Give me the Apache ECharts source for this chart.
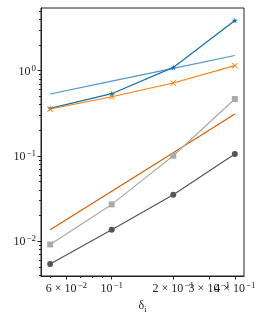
<!DOCTYPE html>
<html><head><meta charset="utf-8">
<script src="https://cdn.jsdelivr.net/npm/echarts@6/dist/echarts.min.js"></script>
<style>html,body{margin:0;padding:0;background:#fff}#c{width:266px;height:320px}</style>
</head><body><div id="c"></div>
<script>
const deltas = [0.05, 0.1, 0.2, 0.4];
const errStar = [0.361, 0.537, 1.093, 3.89];
const errCross = [0.355, 0.495, 0.717, 1.145];
const refHalf = [0.533, 0.754, 1.066, 1.508];
const errSquare = [0.00915, 0.027, 0.1005, 0.465];
const refThreeHalves = [0.0136, 0.0385, 0.109, 0.31];
const errCircle = [0.00539, 0.0136, 0.0351, 0.105];

const xMajorTicks = [0.06, 0.1, 0.2, 0.3, 0.4];
const xLabelsA = [0.06, 0.2];
const xLabelsB = [0.1, 0.3];
const xLabelsC = [0.4];
const xMinorTicks = [0.05, 0.07, 0.08, 0.09];
const yMajorTicks = [0.01, 0.1, 1];
const yMinorTicks = [0.004,0.005,0.006,0.007,0.008,0.009,0.02,0.03,0.04,0.05,0.06,0.07,0.08,0.09,0.2,0.3,0.4,0.5,0.6,0.7,0.8,0.9,2,3,4,5];
const xTickLabels = {0.06:'{m|6 × 10}{e|−2}',0.1:'{m|10}{e|−1}',0.2:'{m|2 × 10}{e|−1}',0.3:'{m|3 × 10}{e|−1}',0.4:'{m|4 × 10}{e|−1}'};
const yTickLabels = {0.01:'{m|10}{e|−2}',0.1:'{m|10}{e|−1}',1:'{m|10}{e|0}'};

const FONT = 'Liberation Serif';
const TXT = '#222';
const rich = {
  m:{fontFamily:FONT,fontSize:12,color:TXT,lineHeight:14,verticalAlign:'bottom'},
  e:{fontFamily:FONT,fontSize:9,color:TXT,lineHeight:14,verticalAlign:'top',padding:[0,0,0,1]}
};
const X0=0.0451, X1=0.4435, Y0=0.0039, Y1=5.44;
function key(v){return Math.round(v*1000)/1000;}

const axisLineStyle={color:'#222',width:1};
function labelCfg(vals){
  return {show:true,margin:5,hideOverlap:false,showMinLabel:true,showMaxLabel:true,customValues:vals,rich:rich,
    formatter:v=>xTickLabels[key(v)]||''};
}
const xAxes=[
 {type:'log',min:X0,max:X1,gridIndex:0,
  axisLine:{show:true,onZero:false,lineStyle:axisLineStyle},
  splitLine:{show:false},
  axisTick:{show:true,inside:false,length:3.5,lineStyle:axisLineStyle,customValues:xMajorTicks},
  axisLabel:labelCfg(xLabelsA),
  name:'{d|δ}{s|i}',nameLocation:'middle',nameGap:24,
  nameTextStyle:{rich:{d:{fontFamily:FONT,fontSize:12,color:TXT,verticalAlign:'top',lineHeight:14},s:{fontFamily:FONT,fontSize:8.5,color:TXT,verticalAlign:'bottom',lineHeight:14}}}
 },
 {type:'log',min:X0,max:X1,gridIndex:0,position:'bottom',
  axisLine:{show:false},splitLine:{show:false},
  axisTick:{show:true,inside:false,length:2,lineStyle:axisLineStyle,customValues:xMinorTicks},
  axisLabel:labelCfg(xLabelsB)
 },
 {type:'log',min:X0,max:X1,gridIndex:0,position:'bottom',
  axisLine:{show:false},splitLine:{show:false},
  axisTick:{show:false},
  axisLabel:labelCfg(xLabelsC)
 }
];
const yAxes=[
 {type:'log',min:Y0,max:Y1,gridIndex:0,
  axisLine:{show:true,onZero:false,lineStyle:axisLineStyle},
  splitLine:{show:false},
  axisTick:{show:true,inside:false,length:3.5,lineStyle:axisLineStyle,customValues:yMajorTicks},
  axisLabel:{show:true,margin:5,hideOverlap:false,showMinLabel:true,showMaxLabel:true,customValues:yMajorTicks,rich:rich,
    formatter:v=>yTickLabels[key(v)]||''}
 },
 {type:'log',min:Y0,max:Y1,gridIndex:0,position:'left',
  axisLine:{show:false},splitLine:{show:false},
  axisTick:{show:true,inside:false,length:2,lineStyle:axisLineStyle,customValues:yMinorTicks},
  axisLabel:{show:false}
 }
];

function pairs(ys){return deltas.map((x,i)=>[x,ys[i]]);}
function ser(ys,color,symbol,size){
  return {type:'line',xAxisIndex:0,yAxisIndex:0,data:pairs(ys),
    lineStyle:{color:color,width:1.2},itemStyle:{color:color,borderWidth:0},
    symbol:symbol,symbolSize:size,showSymbol:symbol!=='none',silent:true,animation:false,z:3};
}
const starPath='path://M0,-1L0.22,-0.3L0.95,-0.31L0.36,0.12L0.59,0.81L0,0.38L-0.59,0.81L-0.36,0.12L-0.95,-0.31L-0.22,-0.3Z';
const crossPath='path://M-1,-0.8L-0.8,-1L0,-0.2L0.8,-1L1,-0.8L0.2,0L1,0.8L0.8,1L0,0.2L-0.8,1L-1,0.8L-0.2,0Z';

const chart=echarts.init(document.getElementById('c'),null,{renderer:'canvas'});
chart.setOption({
  animation:false,
  backgroundColor:'#fff',
  grid:{left:41,right:22,top:8,bottom:44,show:true,borderColor:'#222',borderWidth:1,backgroundColor:'transparent'},
  xAxis:xAxes,yAxis:yAxes,
  series:[
    ser(refHalf,'#4f96d2','none',0),
    ser(errStar,'#1170ae',starPath,6),
    ser(errCross,'#ff7f0e',crossPath,6),
    ser(refThreeHalves,'#d55e00','none',0),
    ser(errSquare,'#aaaaaa','rect',6),
    ser(errCircle,'#555555','circle',6)
  ]
});
</script></body></html>
